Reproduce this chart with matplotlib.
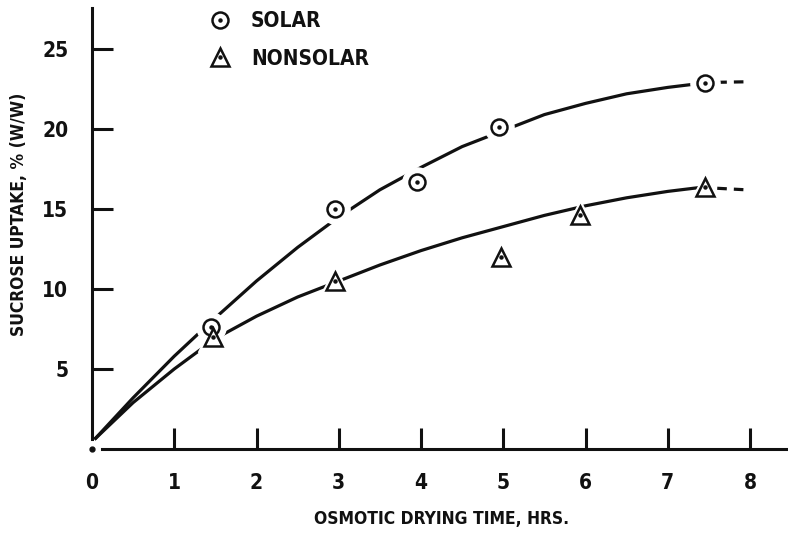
import matplotlib
matplotlib.use("Agg")
import matplotlib.pyplot as plt
from matplotlib.lines import Line2D
from matplotlib.legend_handler import HandlerTuple
from matplotlib import font_manager

# ---- data ----
solar_x = [1.45, 2.95, 3.95, 4.95, 7.45]
solar_y = [7.6, 15.0, 16.7, 20.1, 22.9]
nonsolar_x = [1.47, 2.95, 4.97, 5.93, 7.45]
nonsolar_y = [7.0, 10.5, 12.0, 14.6, 16.4]

# hand-fitted curves
curve_x = [0.03, 0.5, 1.0, 1.5, 2.0, 2.5, 3.0, 3.5, 4.0, 4.5, 5.0, 5.5, 6.0, 6.5, 7.0, 7.4]
solar_curve = [0.6, 3.2, 5.8, 8.2, 10.5, 12.6, 14.5, 16.2, 17.6, 18.9, 19.9, 20.9, 21.6, 22.2, 22.6, 22.85]
nonsolar_curve = [0.6, 2.9, 5.0, 6.9, 8.3, 9.5, 10.5, 11.5, 12.4, 13.2, 13.9, 14.6, 15.2, 15.7, 16.1, 16.35]
ext_x = [7.4, 7.95]
solar_ext = [22.9, 22.95]
nonsolar_ext = [16.35, 16.2]

x_ticks = [0, 1, 2, 3, 4, 5, 6, 7, 8]
y_ticks = [5, 10, 15, 20, 25]

names = {f.name for f in font_manager.fontManager.ttflist}
if "Liberation Sans Narrow" in names:
    FAM = ["Liberation Sans Narrow"]
    STRETCH = "normal"
else:
    FAM = ["DejaVu Sans"]
    STRETCH = "condensed"
FONT = dict(family=FAM, fontweight="bold", fontstretch=STRETCH)

fig = plt.figure(figsize=(7.88, 5.34), dpi=100)
ax = fig.add_axes([92 / 788, 85 / 534, 696 / 788, 441 / 534])
ax.set_xlim(0, 696 / 82.25)
ax.set_ylim(0, 441 / 16)

ink = "#111111"
lw = 2.3

# curves
ax.plot(curve_x, solar_curve, color=ink, lw=lw, solid_capstyle="butt", solid_joinstyle="round", zorder=2)
ax.plot(curve_x, nonsolar_curve, color=ink, lw=lw, solid_capstyle="butt", solid_joinstyle="round", zorder=2)
ax.plot(ext_x, solar_ext, color=ink, lw=lw, ls=(0, (3, 2.2)), zorder=2)
ax.plot(ext_x, nonsolar_ext, color=ink, lw=lw, ls=(0, (3, 2.2)), zorder=2)

# halos (gaps in the line around the symbols)
ax.plot(solar_x, solar_y, ls="none", marker="o", ms=21, mfc="white", mec="white", zorder=3)
ax.plot(nonsolar_x, nonsolar_y, ls="none", marker="^", ms=21, mfc="white", mec="white", zorder=3)

# symbols
ax.plot(solar_x, solar_y, ls="none", marker="o", ms=11.5, mfc="white", mec=ink, mew=1.8, zorder=4)
ax.plot(nonsolar_x, nonsolar_y, ls="none", marker="^", ms=13, mfc="white", mec=ink, mew=1.8, zorder=4)
ax.plot(solar_x, solar_y, ls="none", marker="o", ms=2.2, mfc=ink, mec=ink, zorder=5)
ax.plot(nonsolar_x, nonsolar_y, ls="none", marker="o", ms=2.2, mfc=ink, mec=ink, zorder=5)

# origin dot
ax.plot([0], [0], marker="o", ms=3.5, color=ink, clip_on=False, zorder=5)

# spines
for s in ["top", "right"]:
    ax.spines[s].set_visible(False)
for s in ["left", "bottom"]:
    ax.spines[s].set_linewidth(2.2)
    ax.spines[s].set_color(ink)
ax.spines["left"].set_bounds(0.6, 441 / 16)
ax.spines["bottom"].set_bounds(0.12, 696 / 82.25)

ax.set_xticks(x_ticks)
ax.set_xticklabels([str(v) for v in x_ticks])
ax.set_yticks(y_ticks)
ax.set_yticklabels([str(v) for v in y_ticks])
ax.tick_params(axis="x", direction="in", length=15, width=2.2, color=ink, pad=17)
ax.tick_params(axis="y", direction="in", length=15, width=2.2, color=ink, pad=17)
ax.xaxis.get_major_ticks()[0].tick1line.set_visible(False)
for lab in ax.get_xticklabels() + ax.get_yticklabels():
    lab.set(**FONT, fontsize=15, color=ink)

ax.set_xlabel("OSMOTIC DRYING TIME, HRS.", fontsize=12.5, color=ink, **FONT)
ax.xaxis.set_label_coords(0.502, -0.138)
ax.set_ylabel("SUCROSE UPTAKE, % (W/W)", fontsize=12.5, color=ink, **FONT)
ax.yaxis.set_label_coords(-0.092, 0.533)

# legend
h_solar = (Line2D([], [], ls="none", marker="o", ms=11.5, mfc="white", mec=ink, mew=1.8),
           Line2D([], [], ls="none", marker="o", ms=2.2, mfc=ink, mec=ink))
h_non = (Line2D([], [], ls="none", marker="^", ms=13, mfc="white", mec=ink, mew=1.8),
         Line2D([], [], ls="none", marker="o", ms=2.2, mfc=ink, mec=ink))
leg = ax.legend([h_solar, h_non], ["SOLAR", "NONSOLAR"],
                handler_map={tuple: HandlerTuple(ndivide=1)},
                loc="upper left", bbox_to_anchor=(203 / 788, 1 - 11 / 534),
                bbox_transform=fig.transFigure, frameon=False,
                borderpad=0, borderaxespad=0, handlelength=1.6, handletextpad=0.7,
                labelspacing=0.85,
                prop=dict(family=FAM, weight="bold", stretch=STRETCH, size=15))
for t in leg.get_texts():
    t.set_color(ink)

fig.savefig("out.png", dpi=100)
